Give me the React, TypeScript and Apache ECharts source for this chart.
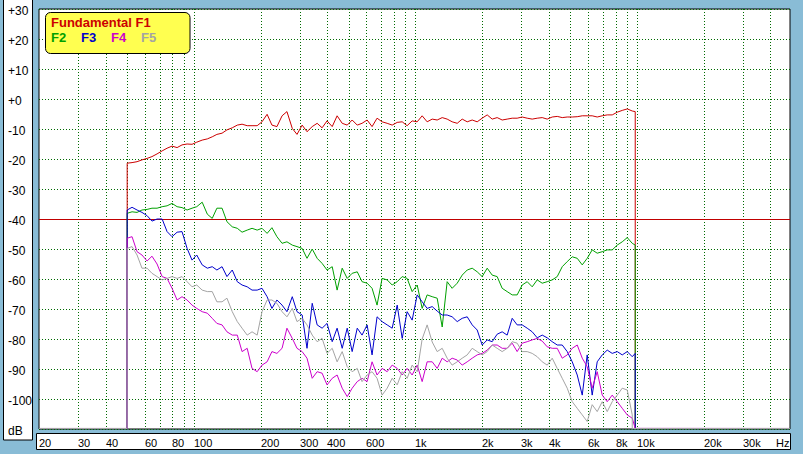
import React, { useEffect, useRef } from 'react';
import * as echarts from 'echarts';

// Frequencies (Hz) at which the harmonic curves were read
const freqs = [
  50, 52.6, 55.4, 58.3, 61.5, 64.7, 68.2, 71.9, 75.7, 79.7,
  84, 88.4, 93.2, 98.1, 103, 109, 115, 121, 127, 134,
  141, 149, 157, 165, 174, 183, 193, 203, 214, 225,
  237, 250, 263, 278, 292, 308, 324, 342, 360, 379,
  399, 421, 443, 467, 492, 518, 546, 574, 605, 637,
  671, 707, 745, 785, 827, 871, 917, 966, 1018, 1072,
  1129, 1190, 1253, 1320, 1390, 1464, 1543, 1625, 1712, 1803,
  1899, 2000, 2107, 2219, 2337, 2462, 2593, 2732, 2877, 3031,
  3193, 3363, 3543, 3732, 3931, 4141, 4362, 4595, 4840, 5098,
  5370, 5657, 5956, 6274, 6609, 6963, 7334, 7725, 8138, 8573,
  9030, 9512, 9812,
];

const f1 = [
  -21.4, -21.2, -20.9, -20.3, -19.8, -19.2, -18.3, -17.3, -16.4, -15.7,
  -16.2, -15.3, -15, -15.1, -14.4, -13.7, -13.3, -12.6, -11.8, -11.4,
  -10.3, -9.6, -8.7, -8.4, -8.9, -8.9, -8.9, -7.6, -5.1, -8.7,
  -9.2, -5.6, -4.2, -9.8, -11.8, -8.7, -10.9, -9.2, -8.1, -9.6,
  -7.3, -9.2, -5.6, -8.1, -8.7, -7, -8.7, -8.1, -7, -9.2,
  -6.4, -7.6, -8.1, -8.7, -7.8, -7.6, -8.9, -7.3, -7.6, -5.6,
  -7.6, -6.7, -7, -6.2, -6.7, -7.6, -8.1, -6.7, -7.6, -7,
  -7.6, -6.4, -5.3, -6.7, -6.2, -7, -6.7, -6.4, -6.4, -6,
  -6.4, -6.7, -6.4, -6.2, -6.7, -6, -5.8, -6.2, -6, -6,
  -5.9, -5.6, -5.6, -5.6, -6, -5.6, -5.3, -5.3, -4.4, -3.8,
  -3.3, -4, -4.2,
];

const f2 = [
  -38.1, -37.6, -37.8, -37, -36.8, -36.4, -36.4, -35.9, -35.6, -34.8,
  -35.9, -36.2, -37, -36.4, -35.9, -34.4, -38.4, -39.8, -36.4, -36.4,
  -40.9, -42.6, -43.1, -44.4, -43.7, -43.1, -43.7, -43.1, -44.8, -42.9,
  -45.9, -48.1, -47.6, -48.7, -49.2, -49.8, -53.1, -50, -53.1, -54.8,
  -57, -55.9, -63.7, -56.4, -59.8, -58.1, -57.6, -60.9, -61.4, -63.1,
  -68.7, -59.8, -60.3, -62, -60.9, -59.2, -59.8, -64.2, -62, -69.8,
  -65.3, -65.9, -66.4, -76, -60.9, -63.1, -61.4, -58.7, -57, -56.4,
  -57.6, -59.2, -56.4, -58.7, -59.2, -63.1, -64.2, -65.3, -65.3, -62,
  -60.9, -62.6, -60.3, -61.4, -60.9, -60.3, -59.2, -55.9, -54.2, -52.6,
  -53.1, -55.3, -53.1, -50.3, -51.4, -50.9, -50.3, -50.3, -48.7, -47.6,
  -46.2, -48.1, -48.7,
];

const f3 = [
  -37, -36.1, -37, -37.8, -38.9, -40.7, -40, -40, -44.2, -45.9,
  -44.4, -44.2, -49.8, -53.7, -52, -55.3, -56.4, -55.9, -57, -55.9,
  -59.2, -57, -60.9, -62, -62.6, -63.7, -63.7, -63.1, -65.9, -69.8,
  -67, -68.7, -70.9, -65.9, -70.9, -72, -83.1, -68.1, -75.3, -76.4,
  -74.8, -80.9, -76.4, -83.1, -76.4, -84.2, -76.4, -78.7, -75.3, -85.3,
  -72.6, -74.2, -75.3, -76.4, -68.7, -79.8, -70.9, -73.7, -65.3, -67.6,
  -69.8, -69.2, -70.7, -72, -72, -72.6, -74.2, -73.1, -72.6, -75.3,
  -77, -82, -80.3, -80.9, -78.4, -77.6, -78.7, -73.1, -75.3, -75.3,
  -76.4, -77.6, -79.6, -78.7, -79.6, -80.9, -82, -82, -84.2, -87.6,
  -92, -98.7, -85.3, -98.7, -87.6, -85.3, -83.7, -84.8, -84.2, -85.3,
  -84.2, -85.9, -84.8,
];

const f4 = [
  -46.4, -45.9, -50.9, -52, -54, -52.4, -55, -59.2, -59.8, -63.1,
  -67, -65.9, -67, -68.7, -69.8, -70.9, -71.4, -73.1, -74.8, -75.3,
  -77.6, -78.7, -78.7, -84.2, -83.1, -89.8, -90.9, -88.7, -87.6, -84.2,
  -84.8, -83.1, -76.4, -79.8, -83.1, -84.2, -86.4, -93.1, -90.9, -91.4,
  -95.3, -93.1, -92, -96.4, -99.2, -96.4, -94.2, -93.1, -94.2, -87.6,
  -92, -89.8, -90.9, -88.7, -89.8, -92, -89.8, -92, -88.7, -94.2,
  -87.6, -87.6, -89.8, -86.4, -87.6, -86.4, -87, -88.7, -87.6, -86.4,
  -85.3, -84.8, -83.7, -82, -82, -83.1, -83.1, -81.4, -84.2, -81.4,
  -80.9, -80.3, -79.8, -80.7, -82.6, -83.1, -83.1, -86.4, -85.3, -83.1,
  -82, -86.4, -89.2, -96.4, -90.9, -98.7, -100.9, -98.7, -100.9, -103.1,
  -105.3, -106.4, -109.8,
];

const f5 = [
  -49.8, -49.2, -52, -56.4, -56.4, -58.1, -59.2, -60.3, -59.8, -59.2,
  -59.8, -59.2, -60.9, -62.6, -62, -63.7, -64.2, -64.2, -67.6, -67.6,
  -66.4, -70.9, -74.2, -76.4, -78.7, -77.6, -78.7, -70.9, -67, -67,
  -68.1, -70.9, -72.6, -69.8, -74.2, -73.1, -75.3, -78.7, -80.9, -79.8,
  -84.8, -83.1, -87.6, -84.2, -89.2, -90.9, -89.8, -94.2, -92, -90.9,
  -93.1, -98.7, -96.4, -93.1, -95.3, -90.9, -93.1, -88.7, -90.9, -80,
  -75.3, -81, -84.2, -83.1, -86.4, -88.7, -87.6, -86.4, -85.3, -83.1,
  -84.2, -85.3, -84.2, -82, -83.1, -84.2, -83.1, -80.9, -81.4, -84.2,
  -84.2, -84.8, -85.9, -87.6, -88.7, -86.4, -89.8, -93.1, -96.4, -100.9,
  -103.1, -105.3, -107.5, -101.9, -104.2, -100.9, -104.2, -100.9, -98.7, -96.4,
  -97, -105.3,
];

const seriesNames = ['Fundamental F1', 'F2', 'F3', 'F4', 'F5'];
const seriesColors = ['#cc0000', '#00a000', '#0000cc', '#cc00cc', '#a4a4a4'];
const seriesValues = [f1, f2, f3, f4, f5];

const gridFreqs = [
  30, 40, 50, 60, 70, 80, 90, 100, 200, 300, 400, 500, 600, 700, 800, 900,
  1000, 2000, 3000, 4000, 5000, 6000, 7000, 8000, 9000, 10000, 20000, 30000, 40000,
];
const tickFreqs = [20, 30, 40, 60, 80, 100, 200, 300, 400, 600, 1000, 2000, 3000, 4000, 6000, 8000, 10000, 20000, 30000];
const tickLabels = ['20', '30', '40', '60', '80', '100', '200', '300', '400', '600', '1k', '2k', '3k', '4k', '6k', '8k', '10k', '20k', '30k'];
const yTicks = [30, 20, 10, 0, -10, -20, -30, -40, -50, -60, -70, -80, -90, -100, -110];

const FLOOR = -109.833;
const X_MIN = 20;
const X_MAX = 49000;
const REF_LINE = -40;

function buildPoints(vals: number[]) {
  const pts: number[][] = [[X_MIN, FLOOR], [freqs[0], FLOOR]];
  vals.forEach((v, i) => pts.push([freqs[i], v]));
  const lastF = freqs[vals.length - 1];
  pts.push([lastF, FLOOR], [X_MAX, FLOOR]);
  return pts;
}

const FONT = '"Liberation Sans", Arial, sans-serif';
const GRID_GREEN = '#006a00';

export default function App() {
  const ref = useRef<HTMLDivElement>(null);
  useEffect(() => {
    document.body.style.margin = '0';
    const chart = echarts.init(ref.current!, null, { renderer: 'svg' });
    const option: any = {
      animation: false,
      backgroundColor: '#89bcd6',
      grid: {
        left: 39, top: 9, right: 13, bottom: 25,
        show: true, backgroundColor: '#ffffff', borderColor: '#000000', borderWidth: 1,
      },
      xAxis: {
        type: 'log', logBase: 10, min: X_MIN, max: X_MAX,
        axisLabel: { show: false }, axisTick: { show: false },
        axisLine: { show: false }, splitLine: { show: false },
      },
      yAxis: {
        type: 'value', min: -110, max: 30, interval: 10,
        axisLabel: { show: false }, axisTick: { show: false }, axisLine: { show: false },
        splitLine: { show: true, lineStyle: { color: GRID_GREEN, width: 1, type: [1, 2] } },
      },
      series: seriesValues.map((vals, i) => ({
        name: seriesNames[i],
        type: 'line',
        data: buildPoints(vals),
        showSymbol: false,
        symbol: 'none',
        clip: false,
        z: 3 + i,
        lineStyle: { color: seriesColors[i], width: 1 },
        itemStyle: { color: seriesColors[i] },
        emphasis: { disabled: true },
      })),
    };
    chart.setOption(option);

    const px = (f: number) => chart.convertToPixel({ xAxisIndex: 0 }, f) as number;
    const py = (v: number) => chart.convertToPixel({ yAxisIndex: 0 }, v) as number;
    const top = py(30);
    const bottom = py(-110);
    const left = px(X_MIN);
    const right = px(X_MAX);

    const graphics: any[] = [];
    graphics.push({
      type: 'rect', z: 0, silent: true,
      shape: { x: 3.5, y: -2, width: 29, height: 442 },
      style: { fill: '#ffffff', stroke: '#000000', lineWidth: 1 },
    });
    graphics.push({
      type: 'rect', z: 0, silent: true,
      shape: { x: 36.5, y: 433.5, width: 754, height: 16 },
      style: { fill: '#ffffff', stroke: '#000000', lineWidth: 1 },
    });
    gridFreqs.forEach((f) => {
      const x = Math.round(px(f)) + 0.5;
      graphics.push({
        type: 'line', z: 1, silent: true,
        shape: { x1: x, y1: top, x2: x, y2: bottom },
        style: { stroke: GRID_GREEN, lineWidth: 1, lineDash: [1, 2] },
      });
    });
    const yr = Math.round(py(REF_LINE)) + 0.5;
    graphics.push({
      type: 'line', z: 2, silent: true,
      shape: { x1: left, y1: yr, x2: right, y2: yr },
      style: { stroke: '#c00000', lineWidth: 1 },
    });
    tickFreqs.forEach((f, i) => {
      graphics.push({
        type: 'text', z: 5, silent: true,
        x: Math.round(px(f)), y: 443,
        style: {
          text: tickLabels[i], fill: '#000', font: `11px ${FONT}`,
          textAlign: 'left', textVerticalAlign: 'middle', align: 'left', verticalAlign: 'middle',
        },
      });
    });
    graphics.push({
      type: 'text', z: 5, silent: true,
      x: Math.round(px(40000)) + 6, y: 443,
      style: {
        text: 'Hz', fill: '#000', font: `11px ${FONT}`,
        textAlign: 'left', textVerticalAlign: 'middle', align: 'left', verticalAlign: 'middle',
      },
    });
    yTicks.forEach((v) => {
      const label = v === -110 ? 'dB' : v >= 0 ? `+${v}` : `${v}`;
      graphics.push({
        type: 'text', z: 5, silent: true,
        x: 8, y: Math.round(py(v)) + 2,
        style: {
          text: label, fill: '#000', font: `12px ${FONT}`,
          textAlign: 'left', textVerticalAlign: 'middle', align: 'left', verticalAlign: 'middle',
        },
      });
    });
    const legendItems = [
      { text: 'F2', x: 51 },
      { text: 'F3', x: 81 },
      { text: 'F4', x: 111 },
      { text: 'F5', x: 141 },
    ];
    graphics.push({
      type: 'group', z: 20, silent: true,
      children: [
        {
          type: 'rect', z: 20,
          shape: { x: 45.5, y: 12.5, width: 144.5, height: 41, r: 5 },
          style: { fill: '#ffff50', stroke: '#000000', lineWidth: 1 },
        },
        {
          type: 'text', z: 21, x: 51, y: 22,
          style: {
            text: seriesNames[0], fill: seriesColors[0], font: `bold 13px ${FONT}`,
            textAlign: 'left', textVerticalAlign: 'middle', align: 'left', verticalAlign: 'middle',
          },
        },
        ...legendItems.map((it, i) => ({
          type: 'text', z: 21, x: it.x, y: 37,
          style: {
            text: it.text, fill: seriesColors[i + 1], font: `bold 13px ${FONT}`,
            textAlign: 'left', textVerticalAlign: 'middle', align: 'left', verticalAlign: 'middle',
          },
        })),
      ],
    });
    chart.setOption({ graphic: graphics });

    return () => chart.dispose();
  }, []);
  return <div ref={ref} style={{ width: 803, height: 454, position: 'absolute', left: 0, top: 0 }} />;
}
